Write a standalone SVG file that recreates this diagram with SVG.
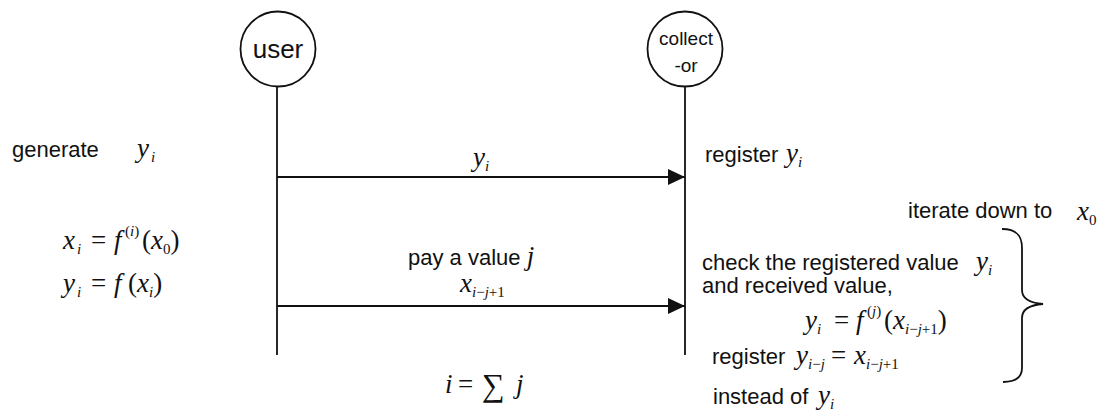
<svg xmlns="http://www.w3.org/2000/svg" width="1100" height="411" viewBox="0 0 1100 411">
<style>
.t{font-family:"Liberation Sans",Arial,sans-serif;font-size:22px;fill:#111}
.m{font-family:"Liberation Serif","Times New Roman",serif;font-size:27px;fill:#111}
.i{font-style:italic}
.s{font-size:15px}
.ln{stroke:#111;stroke-width:1.8;fill:none}
.node{fill:#fff;stroke:#111;stroke-width:1.8}
</style>
<defs>
<marker id="ah" markerWidth="17" markerHeight="16" refX="17" refY="8" orient="auto" markerUnits="userSpaceOnUse">
<path d="M0,0 L17,8 L0,16 Z" fill="#111"/>
</marker>
</defs>
<rect width="1100" height="411" fill="#fff"/>
<g id="user">
<line class="ln" x1="277" y1="87" x2="277" y2="355"/>
<circle class="node" cx="278" cy="49" r="37.5"/>
<text class="t" x="278" y="58" text-anchor="middle" style="font-size:26px">user</text>
</g>
<g id="collector">
<line class="ln" x1="685" y1="87" x2="685" y2="355"/>
<circle class="node" cx="685" cy="49" r="37.5"/>
<text class="t" x="686" y="45" text-anchor="middle" style="font-size:19px">collect</text>
<text class="t" x="686" y="72" text-anchor="middle" style="font-size:19px">-or</text>
</g>
<g id="connectors">
<line class="ln" x1="277" y1="177" x2="685" y2="177" marker-end="url(#ah)"/>
<line class="ln" x1="277" y1="306" x2="685" y2="306" marker-end="url(#ah)"/>
<path class="ln" d="M1002,229 C1016,229 1022,235 1022,248 L1022,290 C1022,299 1030,303 1043,304 C1030,305 1022,309 1022,318 L1022,368 C1022,377 1016,382 1003,382"/>
</g>
<g id="labels">
<text class="t" x="12" y="157">generate</text>
<text class="m" y="157"><tspan class="i" x="137">y</tspan><tspan class="i s" x="151" dy="5">i</tspan></text>

<text class="m" y="249"><tspan class="i" x="63">x</tspan><tspan class="i s" x="77" dy="5">i</tspan><tspan x="91" dy="-5">=</tspan><tspan class="i" x="114">f</tspan><tspan class="s" x="125" dy="-13">(</tspan><tspan class="i s">i</tspan><tspan class="s">)</tspan><tspan x="142" dy="13">(</tspan><tspan class="i">x</tspan><tspan class="s" dy="5">0</tspan><tspan dy="-5">)</tspan></text>
<text class="m" y="292"><tspan class="i" x="63">y</tspan><tspan class="i s" x="77" dy="5">i</tspan><tspan x="91" dy="-5">=</tspan><tspan class="i" x="114">f</tspan><tspan x="128">(</tspan><tspan class="i">x</tspan><tspan class="i s" dy="5">i</tspan><tspan dy="-5">)</tspan></text>

<text class="m" y="166"><tspan class="i" x="473">y</tspan><tspan class="i s" dy="5">i</tspan></text>
<text class="t" x="408" y="265">pay a value <tspan class="m i">j</tspan></text>
<text class="m" y="292"><tspan class="i" x="460">x</tspan><tspan class="s" dy="5"><tspan class="i">i</tspan>−<tspan class="i">j</tspan>+1</tspan></text>

<text class="t" x="705" y="162">register</text>
<text class="m" y="162"><tspan class="i" x="786">y</tspan><tspan class="i s" dy="5">i</tspan></text>

<text class="t" x="908" y="218">iterate down to</text>
<text class="m" y="220"><tspan class="i" x="1077">x</tspan><tspan class="s" dy="5">0</tspan></text>

<text class="t" x="702" y="270">check the registered value</text>
<text class="m" y="270"><tspan class="i" x="976">y</tspan><tspan class="i s" dy="5">i</tspan></text>
<text class="t" x="702" y="293">and received value,</text>

<text class="m" y="329"><tspan class="i" x="805">y</tspan><tspan class="i s" dy="5">i</tspan><tspan x="834" dy="-5">=</tspan><tspan class="i" x="856">f</tspan><tspan class="s" x="867" dy="-13">(</tspan><tspan class="i s">j</tspan><tspan class="s">)</tspan><tspan x="884" dy="13">(</tspan><tspan class="i">x</tspan><tspan class="s" dy="5"><tspan class="i">i</tspan>−<tspan class="i">j</tspan>+1</tspan><tspan dy="-5">)</tspan></text>

<text class="t" x="712" y="364">register</text>
<text class="m" y="364"><tspan class="i" x="796">y</tspan><tspan class="s" dy="5"><tspan class="i">i</tspan>−<tspan class="i">j</tspan></tspan><tspan x="831" dy="-5">=</tspan><tspan class="i" x="854">x</tspan><tspan class="s" dy="5"><tspan class="i">i</tspan>−<tspan class="i">j</tspan>+1</tspan></text>

<text class="t" x="713" y="404">instead of</text>
<text class="m" y="404"><tspan class="i" x="818">y</tspan><tspan class="i s" dy="5">i</tspan></text>

<text class="m" y="393"><tspan class="i" x="445">i</tspan><tspan x="458">=</tspan><tspan x="482" dy="3" style="font-size:32px">∑</tspan><tspan class="i" x="516" dy="-3">j</tspan></text>
</g>
</svg>
